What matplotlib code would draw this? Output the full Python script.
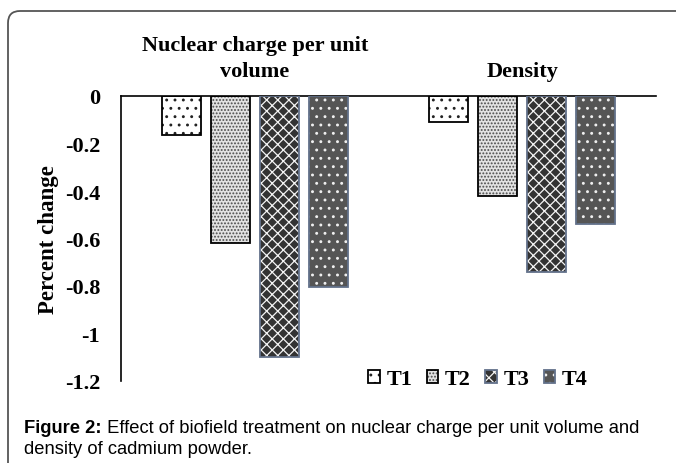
import matplotlib
matplotlib.use("Agg")
import matplotlib.pyplot as plt
import numpy as np
from matplotlib.patches import Patch, FancyBboxPatch
from matplotlib.transforms import IdentityTransform
from matplotlib.legend_handler import HandlerTuple

categories = ["Nuclear charge per unit\nvolume", "Density"]
series_names = ["T1", "T2", "T3", "T4"]
T1 = [-0.165, -0.11]
T2 = [-0.62, -0.42]
T3 = [-1.10, -0.74]
T4 = [-0.805, -0.54]
ytick_values = [0, -0.2, -0.4, -0.6, -0.8, -1, -1.2]
ytick_labels = ["0", "-0.2", "-0.4", "-0.6", "-0.8", "-1", "-1.2"]
caption_bold = "Figure 2:"
caption_rest_1 = " Effect of biofield treatment on nuclear charge per unit volume and"
caption_line_2 = "density of cadmium powder."

series = [T1, T2, T3, T4]
# style: facecolor, hatch, hatch colour, outline colour
styles = [
    ("white", "..", "#222222", "black"),
    ("#e2e2e2", ".....", "#4a4a4a", "black"),
    ("#333333", "xxx", "#f4f4f4", "#62718a"),
    ("#555555", "..", "#f0f0f0", "#62718a"),
]

plt.rcParams["hatch.linewidth"] = 0.9
serif = ["Liberation Serif", "DejaVu Serif"]

fig = plt.figure(figsize=(6.76, 4.64), dpi=100)
ax = fig.add_axes([121 / 676, 1 - 382 / 464, (656 - 121) / 676, (382 - 97) / 464])

x = np.arange(len(categories))
spacing = 0.183
width = 0.146
handles = []
for i, (vals, (fc, hatch, hc, ec)) in enumerate(zip(series, styles)):
    pos = x + (i - 1.5) * spacing
    ax.bar(pos, vals, width, color=fc, edgecolor=hc, hatch=hatch, linewidth=0, zorder=2)
    ax.bar(pos, vals, width, fill=False, edgecolor=ec, linewidth=1.3, zorder=3)
    h1 = Patch(facecolor=fc, edgecolor=hc, hatch=hatch, linewidth=0)
    h2 = Patch(fill=False, edgecolor=ec, linewidth=1.3)
    handles.append((h1, h2))

ax.set_xlim(-0.5, 1.5)
ax.set_ylim(-1.2, 0)
ax.set_yticks(ytick_values)
ax.set_yticklabels(ytick_labels, fontfamily=serif, fontweight="bold", fontsize=16)
ax.xaxis.tick_top()
ax.set_xticks(x)
ax.set_xticklabels(categories, fontfamily=serif, fontweight="bold", fontsize=16,
                   linespacing=1.35)
ax.tick_params(axis="x", length=0, pad=11)
ax.tick_params(axis="y", length=0, pad=15)
for s in ["bottom", "right"]:
    ax.spines[s].set_visible(False)
ax.spines["top"].set_linewidth(1.2)
ax.spines["left"].set_linewidth(1.2)
ax.set_ylabel("Percent change", fontfamily=serif, fontweight="bold", fontsize=16.5)
ax.yaxis.set_label_coords(-0.116, 0.5)

leg = fig.legend(handles, series_names, loc="center",
                 bbox_to_anchor=(478 / 676, 1 - 380 / 464), ncol=4, frameon=False,
                 handler_map={tuple: HandlerTuple(ndivide=1)},
                 prop={"family": serif, "weight": "bold", "size": 16},
                 handlelength=0.52, handleheight=0.52, handletextpad=0.3,
                 columnspacing=0.65, borderpad=0)

# rounded border
border = FancyBboxPatch((8, -30), 720, 464 - 12 + 30,
                        boxstyle="round,pad=0,rounding_size=12",
                        transform=IdentityTransform(), facecolor="none",
                        edgecolor="#555555", linewidth=1.3)
fig.patches.append(border)

# caption
sans = ["Liberation Sans", "DejaVu Sans"]
fs = 13.2
cx, cy1, cy2 = 24 / 676, 1 - 433 / 464, 1 - 454 / 464
t1 = fig.text(cx, cy1, caption_bold, fontfamily=sans, fontweight="bold",
              fontsize=fs, va="baseline", ha="left")
fig.canvas.draw()
bb = t1.get_window_extent(fig.canvas.get_renderer())
fig.text(bb.x1 / 676, cy1, caption_rest_1, fontfamily=sans, fontsize=fs,
         va="baseline", ha="left")
fig.text(cx, cy2, caption_line_2, fontfamily=sans, fontsize=fs,
         va="baseline", ha="left")

fig.savefig("out.png", dpi=100)
